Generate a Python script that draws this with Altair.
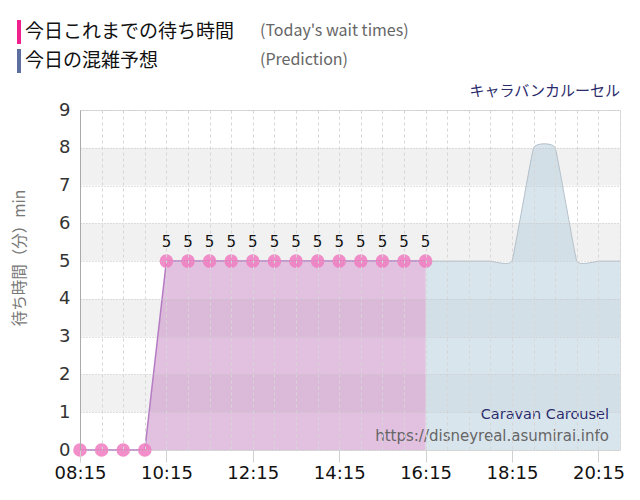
import altair as alt
import pandas as pd

# ---- data ----
actual_times = ["08:15", "08:45", "09:15", "09:45", "10:15", "10:45", "11:15", "11:45",
                "12:15", "12:45", "13:15", "13:45", "14:15", "14:45", "15:15", "15:45", "16:15"]
actual_values = [0, 0, 0, 0, 5, 5, 5, 5, 5, 5, 5, 5, 5, 5, 5, 5, 5]

pred_times = ["16:15", "16:45", "17:15", "17:45", "18:15", "18:45", "19:15", "19:45", "20:15", "20:45"]
pred_values = [5, 5, 5, 5, 5, 8, 8, 5, 5, 5]

band_lo = [1, 3, 5, 7]
band_hi = [2, 4, 6, 8]

x_start, x_end = "08:15", "20:45"
title_jp = "キャラバンカルーセル"
title_en = "Caravan Carousel"
site = "https://disneyreal.asumirai.info"
legend1_jp, legend1_en = "今日これまでの待ち時間", "(Today's wait times)"
legend2_jp, legend2_en = "今日の混雑予想", "(Prediction)"
y_title = "待ち時間（分）min"


def to_min(t):
    h, m = t.split(":")
    return int(h) * 60 + int(m)


actual = pd.DataFrame({"t": [to_min(t) for t in actual_times], "v": actual_values})
pred = pd.DataFrame({"t": [to_min(t) for t in pred_times], "v": pred_values})
bands = pd.DataFrame({"lo": band_lo, "hi": band_hi})

x0, x1 = to_min(x_start), to_min(x_end)
grid_vals = list(range(x0, x1 + 1, 30))

NUM_FONT = "DejaVu Sans"
JP_FONT = "Noto Sans CJK JP"

xscale = alt.Scale(domain=[x0, x1], nice=False, zero=False)
yscale = alt.Scale(domain=[0, 9], nice=False)

label_expr = (f"(datum.value - {x0}) % 120 == 0 ? "
              "((floor(datum.value/60) < 10 ? '0' : '') + floor(datum.value/60) + ':' + "
              "(datum.value % 60 < 10 ? '0' : '') + (datum.value % 60)) : ''")

xaxis = alt.Axis(values=grid_vals, labelExpr=label_expr, title=None, domain=False,
                 grid=True, gridColor="#d6d6d6", gridDash=[3, 3],
                 ticks=True, tickSize=12, tickColor="#d0d0d0",
                 tickOpacity={"condition": {"test": f"(datum.value - {x0}) % 120 == 0", "value": 1}, "value": 0},
                 labelFont=NUM_FONT, labelFontSize=18, labelColor="#111",
                 labelPadding=2, labelOverlap=False, labelFlush=False, zindex=1)
yaxis = alt.Axis(values=list(range(0, 10)), tickCount=10, title=None, domain=True, domainColor="#aaaaaa",
                 ticks=False, grid=True, gridColor="#c4c4c4", gridDash=[1, 2],
                 labelFont=NUM_FONT, labelFontSize=18, labelColor="#333", labelPadding=10,
                 labelOverlap=False, zindex=1)

X = alt.X("t:Q", scale=xscale, axis=xaxis)
Y = alt.Y("v:Q", scale=yscale, axis=yaxis)

band_layer = alt.Chart(bands).mark_rect(color="#f1f1f1").encode(
    y=alt.Y("lo:Q", scale=yscale, axis=yaxis), y2="hi:Q",
    x=alt.value(0), x2=alt.value("width"))

pred_layer = alt.Chart(pred).mark_area(
    interpolate="cardinal", tension=0.72, color="#b9cfdf", opacity=0.55,
    line={"color": "#b4c0ca", "strokeWidth": 1}).encode(x=X, y=Y)

actual_area = alt.Chart(actual).mark_area(
    color="#c582c2", opacity=0.5,
    line={"color": "#b57cc4", "strokeWidth": 1.5}).encode(x=X, y=Y)

points = alt.Chart(actual).mark_circle(size=185, color="#f07abf", opacity=0.85).encode(x=X, y=Y)

labels = alt.Chart(actual).transform_filter("datum.v > 0").mark_text(
    dy=-19, fontSize=15, font=NUM_FONT, color="#111").encode(x=X, y=Y, text="v:Q")


def txt(s, x, y, size, color, font, align="left", angle=None):
    kw = dict(fontSize=size, color=color, font=font, align=align, baseline="middle")
    if angle is not None:
        kw["angle"] = angle
    return alt.Chart(pd.DataFrame({"s": [s]})).mark_text(**kw).encode(
        text="s:N", x=alt.value(x), y=alt.value(y))


def bar(color, y, y2):
    return alt.Chart(pd.DataFrame({"s": [0]})).mark_rect(color=color).encode(
        x=alt.value(-63), x2=alt.value(-59), y=alt.value(y), y2=alt.value(y2))


annotations = [
    bar("#f0208c", -90, -66),
    bar("#5c6f9f", -61, -37),
    txt(legend1_jp, -55, -78, 19, "#111", JP_FONT),
    txt(legend1_en, 180, -79, 16, "#666", JP_FONT),
    txt(legend2_jp, -55, -49, 19, "#111", JP_FONT),
    txt(legend2_en, 180, -50, 16, "#666", JP_FONT),
    txt(title_jp, 540, -19, 15, "#2b2b6b", JP_FONT, align="right"),
    txt(title_en, 529, 305, 14.5, "#2b2b6b", NUM_FONT, align="right"),
    txt(site, 529, 326, 15, "#666", NUM_FONT, align="right"),
    txt(y_title, -60, 148, 15.5, "#777", JP_FONT, align="center", angle=270),
]

chart = alt.layer(band_layer, pred_layer, actual_area, points, labels, *annotations).properties(
    width=540, height=340,
    autosize=alt.AutoSizeParams(type="none"),
    padding={"left": 72, "top": 102, "right": 12, "bottom": 40},
).configure_view(fill="#f8f8f8", strokeWidth=0).configure(background="white")

chart.save("out.html", embed_options={"renderer": "svg", "actions": False})
